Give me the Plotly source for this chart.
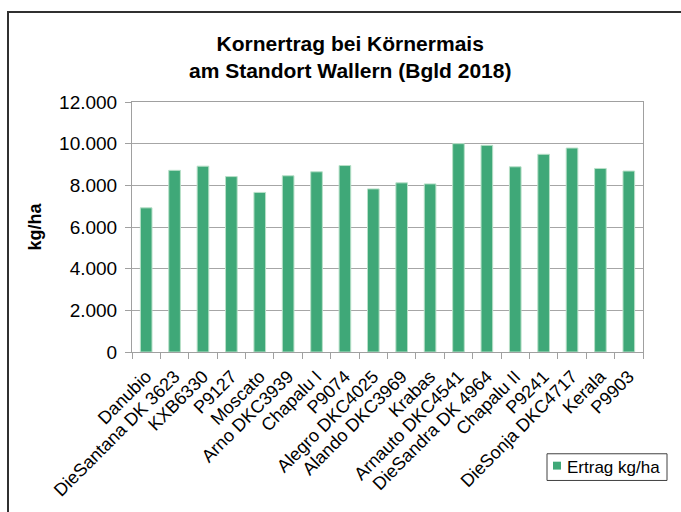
import plotly.graph_objects as go

categories = ["Danubio", "DieSantana DK 3623", "KXB6330", "P9127", "Moscato",
              "Arno DKC3939", "Chapalu I", "P9074", "Alegro DKC4025", "Alando DKC3969",
              "Krabas", "Arnauto DKC4541", "DieSandra DK 4964", "Chapalu II", "P9241",
              "DieSonja DKC4717", "Kerala", "P9903"]
ertrag = [6920, 8720, 8920, 8420, 7660, 8460, 8650, 8950, 7830, 8120,
          8070, 10000, 9920, 8890, 9490, 9790, 8810, 8685]
y_ticks = [0, 2000, 4000, 6000, 8000, 10000, 12000]
y_tick_labels = ["0", "2.000", "4.000", "6.000", "8.000", "10.000", "12.000"]
series_name = "Ertrag kg/ha"
bar_color = "#3fa878"

FONT = "Liberation Sans, Arial, sans-serif"

fig = go.Figure()
fig.add_trace(go.Bar(
    x=categories, y=ertrag, name=series_name, showlegend=False,
    marker=dict(color=bar_color, line=dict(color="#b8e0c8", width=1)),
))

L, R, T, B = 132, 38, 102, 157
W, H = 681, 512
pw = W - L - R
ph = H - T - B

def px_x(x):
    return (x - L) / pw

def px_y(y):
    return (H - B - y) / ph

fig.update_layout(
    width=W, height=H,
    margin=dict(l=L, r=R, t=T, b=B),
    paper_bgcolor="white", plot_bgcolor="white",
    bargap=0.59,
    font=dict(family=FONT, color="black"),
    showlegend=False,
    xaxis=dict(
        type="category", tickangle=-45, tickfont=dict(size=18),
        showline=True, linecolor="#a0a0a0", linewidth=1,
        ticks="outside", tickson="boundaries", ticklen=6, tickcolor="#a0a0a0",
        showgrid=False, mirror=True, ticklabelstandoff=6,
    ),
    yaxis=dict(
        range=[0, 12000], tickvals=y_ticks, ticktext=y_tick_labels,
        tickfont=dict(size=19), showgrid=True, gridcolor="#a6a6a6", gridwidth=1,
        showline=True, linecolor="#a0a0a0", linewidth=1, mirror=True,
        ticks="outside", ticklen=6, tickcolor="#a0a0a0", ticklabelstandoff=4,
        title=dict(text="<b>kg/ha</b>", font=dict(size=18), standoff=12),
        zeroline=False,
    ),
    shapes=[
        dict(type="rect", xref="paper", yref="paper",
             x0=px_x(8), x1=px_x(700), y0=px_y(11), y1=px_y(530),
             line=dict(color="#303030", width=2), fillcolor="rgba(0,0,0,0)",
             layer="below"),
        # legend box
        dict(type="rect", xref="paper", yref="paper",
             x0=px_x(547), x1=px_x(667), y0=px_y(458), y1=px_y(485),
             line=dict(color="#404040", width=1), fillcolor="white"),
        # legend swatch
        dict(type="rect", xref="paper", yref="paper",
             x0=px_x(553), x1=px_x(561), y0=px_y(466), y1=px_y(474),
             line=dict(width=0), fillcolor=bar_color),
    ],
    annotations=[
        dict(text="<b>Kornertrag bei Körnermais</b><br><b>am Standort Wallern (Bgld 2018)</b>",
             xref="paper", yref="paper", x=px_x(350), y=px_y(56),
             xanchor="center", yanchor="middle", showarrow=False,
             font=dict(size=21, family=FONT)),
        dict(text=series_name, xref="paper", yref="paper",
             x=px_x(565), y=px_y(471.5), xanchor="left", yanchor="middle",
             showarrow=False, font=dict(size=17, family=FONT)),
    ],
)

fig.write_html("out.html", config={"displayModeBar": False},
               post_script="document.body.style.margin='0';")
